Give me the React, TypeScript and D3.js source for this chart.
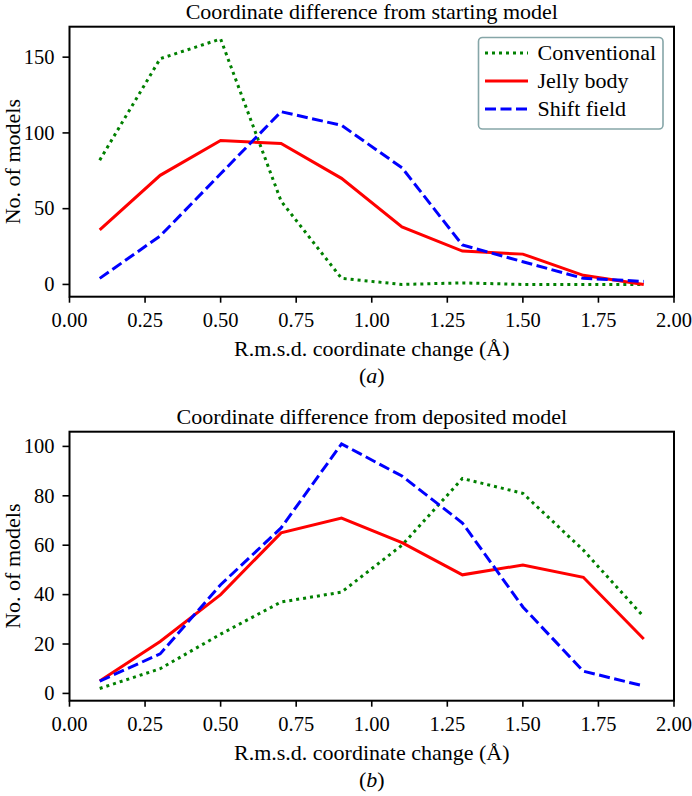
import React from 'react';
import * as d3 from 'd3';

const xValues = [0.1, 0.3, 0.5, 0.7, 0.9, 1.1, 1.3, 1.5, 1.7, 1.9];
const xTicks = [0, 0.25, 0.5, 0.75, 1.0, 1.25, 1.5, 1.75, 2.0];

// (a) starting model
const startConventional = [82, 149, 162, 55, 4, 0, 1, 0, 0, 0];
const startJelly = [36, 72, 95, 93, 70, 38, 22, 20, 6, 0];
const startShift = [4, 32, 73, 114, 105, 77, 26, 15, 4, 2];
const startTicks = [0, 50, 100, 150];

// (b) deposited model
const depConventional = [2, 10, 24, 37, 41, 60, 87, 81, 58, 31];
const depJelly = [5, 21, 40, 65, 71, 61, 48, 52, 47, 22];
const depShift = [5, 16, 44, 67, 101, 88, 69, 35, 9, 3];
const depTicks = [0, 20, 40, 60, 80, 100];

const seriesNames = ['Conventional', 'Jelly body', 'Shift field'];

const styles = {
    'Conventional': { stroke: '#008000', dash: '3,4' },
    'Jelly body': { stroke: '#ff0000', dash: null },
    'Shift field': { stroke: '#0000ff', dash: '11,4.5' }
};

const font = "'Liberation Serif', serif";
const left = 69.5;
const right = 674;

type PanelProps = {
    top: number;
    bottom: number;
    title: string;
    tag: string;
    series: number[][];
    yTicks: number[];
    legend?: boolean;
};

const Panel = ({ top, bottom, title, tag, series, yTicks, legend }: PanelProps) => {
    const x = d3.scaleLinear().domain([0, 2]).range([left, right]);
    const all = series.flat();
    const lo = d3.min(all) as number;
    const hi = d3.max(all) as number;
    const pad = (hi - lo) * 0.05;
    const y = d3.scaleLinear().domain([lo - pad, hi + pad]).range([bottom, top]);

    const line = d3.line<number>()
        .x((_, i) => x(xValues[i]))
        .y(d => y(d));

    const cx = (left + right) / 2;
    const cy = (top + bottom) / 2;

    return (
        <g>
            <text x={cx} y={top - 7.5} textAnchor="middle" fontSize={22}>{title}</text>

            {series.map((vals, i) => {
                const s = styles[seriesNames[i]];
                return (
                    <path key={i} d={line(vals) || ''} fill="none" stroke={s.stroke}
                        strokeWidth={3} strokeDasharray={s.dash || undefined} />
                );
            })}

            <rect x={left} y={top} width={right - left} height={bottom - top}
                fill="none" stroke="#000" strokeWidth={2} />

            {xTicks.map(t => (
                <g key={t} transform={`translate(${x(t)},${bottom})`}>
                    <line y2={6} stroke="#000" strokeWidth={1.6} />
                    <text y={30.5} textAnchor="middle">{t.toFixed(2)}</text>
                </g>
            ))}
            {yTicks.map(t => (
                <g key={t} transform={`translate(${left},${y(t)})`}>
                    <line x2={-7} stroke="#000" strokeWidth={1.6} />
                    <text x={-15} dy="0.33em" textAnchor="end">{t}</text>
                </g>
            ))}

            <text x={cx} y={bottom + 59} textAnchor="middle" fontSize={22}>
                R.m.s.d. coordinate change (Å)
            </text>
            <text x={cx} y={bottom + 86} textAnchor="middle" fontSize={22}>
                (<tspan fontStyle="italic">{tag}</tspan>)
            </text>
            <text transform={`translate(19.5,${cy}) rotate(-90)`} textAnchor="middle" fontSize={22}>
                No. of models
            </text>

            {legend && (
                <g>
                    <rect x={478.5} y={37.5} width={184.5} height={91.5} rx={4}
                        fill="#fff" stroke="#86a6a8" strokeWidth={1.6} />
                    {seriesNames.map((name, i) => {
                        const s = styles[name];
                        const ly = 53 + i * 28;
                        return (
                            <g key={name}>
                                <line x1={485} x2={528} y1={ly} y2={ly} stroke={s.stroke}
                                    strokeWidth={3} strokeDasharray={s.dash || undefined} />
                                <text x={537.5} y={ly + 7} fontSize={22}>{name}</text>
                            </g>
                        );
                    })}
                </g>
            )}
        </g>
    );
};

export default function App() {
    return (
        <svg width={692} height={796}
            style={{ position: 'absolute', left: 0, top: 0, background: '#fff', fontFamily: font, fontSize: '20.5px' }}>
            <Panel top={26.7} bottom={296.7} title="Coordinate difference from starting model" tag="a"
                series={[startConventional, startJelly, startShift]} yTicks={startTicks} legend />
            <Panel top={431.7} bottom={700.7} title="Coordinate difference from deposited model" tag="b"
                series={[depConventional, depJelly, depShift]} yTicks={depTicks} />
        </svg>
    );
}
